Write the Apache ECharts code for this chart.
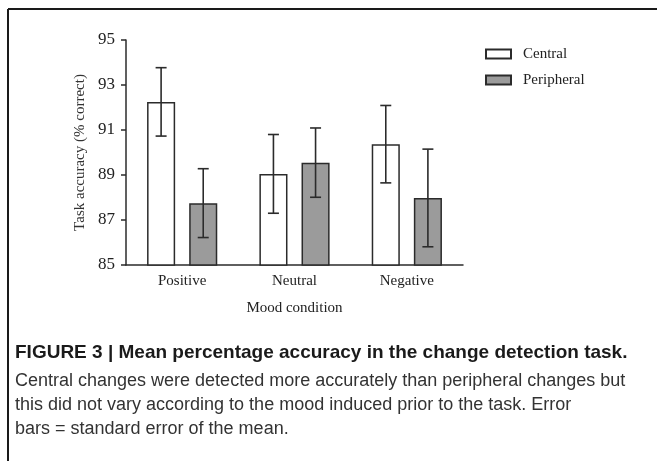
<!DOCTYPE html>
<html>
<head>
<meta charset="utf-8">
<script src="https://cdn.jsdelivr.net/npm/echarts@6/dist/echarts.min.js"></script>
<style>
  html, body { margin: 0; padding: 0; background: #fff; }
</style>
</head>
<body>
<div id="main" style="width: 657px;height:461px;"></div>
<script type="text/javascript">
    // data
    var categories = ['Positive', 'Neutral', 'Negative'];
    var central = [92.25, 89.05, 90.37];
    var centralSE = [1.52, 1.75, 1.72];
    var peripheral = [87.75, 89.55, 87.98];
    var peripheralSE = [1.53, 1.54, 2.17];
    var yTicks = [85, 87, 89, 91, 93, 95];

    var serif = '"Liberation Serif", "Times New Roman", serif';
    var sans = '"Liberation Sans", Arial, sans-serif';

    // bar width 25% of band, gap 50% of bar -> bar centre sits 0.1875 band from tick
    var barFrac = 0.25;
    var sideOffset = barFrac * 1.5 / 2;

    function errData(mean, se) {
        return mean.map(function (m, i) {
            return [i, m - se[i], m + se[i]];
        });
    }

    function errRender(side) {
        return function (params, api) {
            var band = api.size([1, 0])[0];
            var dx = side * sideOffset * band;
            var lo = api.coord([api.value(0), api.value(1)]);
            var hi = api.coord([api.value(0), api.value(2)]);
            var x = lo[0] + dx;
            var cap = 5.5;
            var st = { stroke: '#2b2b2b', lineWidth: 1.6 };
            return {
                type: 'group',
                children: [
                    { type: 'line', shape: { x1: x, y1: lo[1], x2: x, y2: hi[1] }, style: st },
                    { type: 'line', shape: { x1: x - cap, y1: hi[1], x2: x + cap, y2: hi[1] }, style: st },
                    { type: 'line', shape: { x1: x - cap, y1: lo[1], x2: x + cap, y2: lo[1] }, style: st }
                ]
            };
        };
    }

    var myChart = echarts.init(document.getElementById('main'));
    var option = {
        animation: false,
        backgroundColor: '#fff',
        grid: { left: 126, right: 194, top: 40, bottom: 196 },
        legend: {
            data: ['Central', 'Peripheral'],
            orient: 'vertical',
            left: 480,
            top: 41,
            icon: 'rect',
            itemWidth: 25,
            itemHeight: 9,
            itemGap: 10,
            textStyle: { fontFamily: serif, fontSize: 15, color: '#222', lineHeight: 16, padding: [0, 0, 0, 7] }
        },
        xAxis: {
            type: 'category',
            data: categories,
            name: 'Mood condition',
            nameLocation: 'middle',
            nameGap: 36,
            nameTextStyle: { fontFamily: serif, fontSize: 15, color: '#222' },
            axisLine: { lineStyle: { color: '#2b2b2b', width: 1.5 } },
            axisTick: { alignWithLabel: true, length: 5, lineStyle: { color: '#2b2b2b', width: 1.5 } },
            axisLabel: { fontFamily: serif, fontSize: 15, color: '#222', margin: 9 }
        },
        yAxis: {
            type: 'value',
            min: yTicks[0],
            max: yTicks[yTicks.length - 1],
            interval: 2,
            name: 'Task accuracy (% correct)',
            nameLocation: 'middle',
            nameGap: 32,
            nameTextStyle: { fontFamily: serif, fontSize: 15, color: '#333' },
            splitLine: { show: false },
            axisLine: { show: true, lineStyle: { color: '#2b2b2b', width: 1.5 } },
            axisTick: { show: true, length: 5, lineStyle: { color: '#2b2b2b', width: 1.5 } },
            axisLabel: { fontFamily: serif, fontSize: 17, color: '#222', margin: 11 }
        },
        series: [
            {
                name: 'Central',
                type: 'bar',
                data: central,
                barWidth: (barFrac * 100) + '%',
                barGap: '50%',
                itemStyle: { color: '#ffffff', borderColor: '#2b2b2b', borderWidth: 1.5 }
            },
            {
                name: 'Peripheral',
                type: 'bar',
                data: peripheral,
                barWidth: (barFrac * 100) + '%',
                barGap: '50%',
                itemStyle: { color: '#9b9b9b', borderColor: '#2b2b2b', borderWidth: 1.5 }
            },
            {
                name: 'Central SE',
                type: 'custom',
                data: errData(central, centralSE),
                renderItem: errRender(-1),
                z: 5
            },
            {
                name: 'Peripheral SE',
                type: 'custom',
                data: errData(peripheral, peripheralSE),
                renderItem: errRender(1),
                z: 5
            }
        ],
        graphic: [
            { type: 'line', shape: { x1: 8, y1: 9, x2: 657, y2: 9 }, style: { stroke: '#1a1a1a', lineWidth: 2 } },
            { type: 'line', shape: { x1: 8, y1: 9, x2: 8, y2: 461 }, style: { stroke: '#1a1a1a', lineWidth: 2 } },
            {
                type: 'text', left: 15, top: 343,
                style: { text: 'FIGURE 3 | Mean percentage accuracy in the change detection task.', font: 'bold 19px ' + sans, fill: '#1a1a1a' }
            },
            {
                type: 'text', left: 15, top: 369,
                style: {
                    text: 'Central changes were detected more accurately than peripheral changes but\nthis did not vary according to the mood induced prior to the task. Error\nbars = standard error of the mean.',
                    font: '18px ' + sans, fill: '#333', lineHeight: 24
                }
            }
        ]
    };
    myChart.setOption(option);
</script>
</body>
</html>
